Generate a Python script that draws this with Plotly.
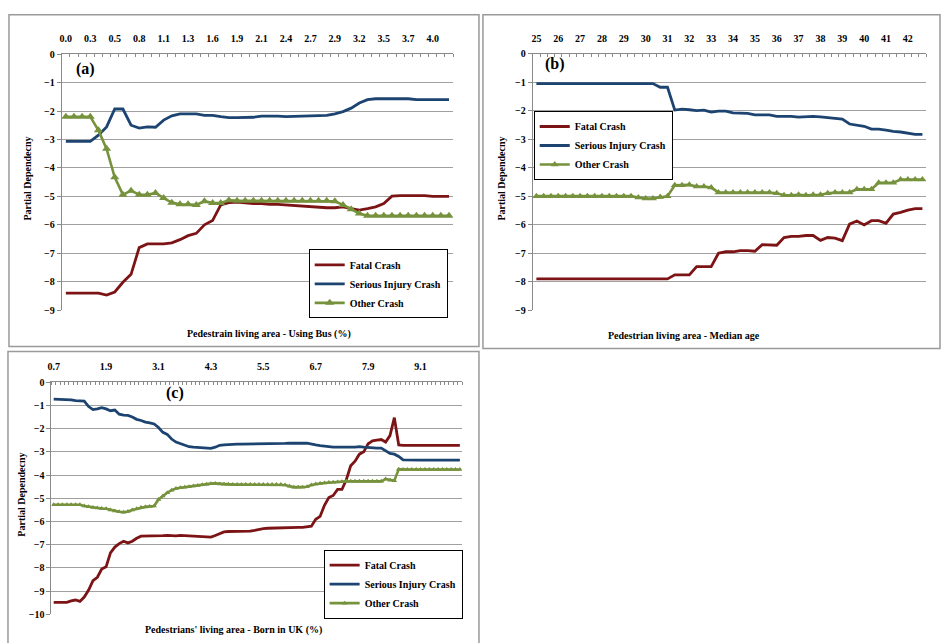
import plotly.graph_objects as go

# ---------------- data ----------------
# (a) share of residents using the bus, % (category axis, labelled every 3rd step)
bus_tick_labels = ["0.0", "0.3", "0.5", "0.8", "1.1", "1.3", "1.6", "1.9", "2.1",
                   "2.4", "2.7", "2.9", "3.2", "3.5", "3.7", "4.0"]
bus_fatal = [-8.40, -8.40, -8.40, -8.40, -8.40, -8.47, -8.36, -8.02, -7.74, -6.80,
             -6.67, -6.67, -6.67, -6.63, -6.52, -6.38, -6.30, -6.00, -5.85, -5.30,
             -5.22, -5.20, -5.23, -5.25, -5.25, -5.28, -5.28, -5.30, -5.34, -5.36,
             -5.38, -5.38, -5.40, -5.40, -5.37, -5.43, -5.48, -5.43, -5.37, -5.25,
             -4.99, -4.97, -4.97, -4.97, -4.97, -5.00, -5.00, -5.00]
bus_serious = [-3.07, -3.07, -3.07, -3.07, -2.85, -2.56, -1.93, -1.93, -2.50, -2.60,
               -2.56, -2.57, -2.32, -2.17, -2.10, -2.10, -2.10, -2.15, -2.15, -2.20,
               -2.23, -2.23, -2.22, -2.22, -2.18, -2.17, -2.18, -2.20, -2.20, -2.18,
               -2.17, -2.15, -2.15, -2.10, -2.02, -1.90, -1.72, -1.60, -1.57, -1.57,
               -1.57, -1.57, -1.57, -1.60, -1.60, -1.60, -1.60, -1.60]
bus_other = [-2.20, -2.20, -2.20, -2.20, -2.68, -3.33, -4.33, -4.94, -4.80, -4.94,
             -4.94, -4.88, -5.06, -5.22, -5.28, -5.28, -5.30, -5.17, -5.23, -5.23,
             -5.14, -5.15, -5.15, -5.15, -5.15, -5.15, -5.15, -5.15, -5.15, -5.15,
             -5.15, -5.15, -5.15, -5.17, -5.30, -5.45, -5.60, -5.68, -5.68, -5.68,
             -5.68, -5.68, -5.68, -5.68, -5.68, -5.68, -5.68, -5.68]

# (b) median age of residents (three steps per year)
age_tick_labels = ["25", "26", "27", "28", "29", "30", "31", "32", "33",
                   "34", "35", "36", "37", "38", "39", "40", "41", "42"]
age_fatal = [-7.90, -7.90, -7.90, -7.90, -7.90, -7.90, -7.90, -7.90, -7.90, -7.90,
             -7.90, -7.90, -7.90, -7.90, -7.90, -7.90, -7.90, -7.90, -7.90, -7.76,
             -7.76, -7.76, -7.47, -7.47, -7.47, -7.00, -6.95, -6.95, -6.91, -6.91,
             -6.93, -6.70, -6.70, -6.72, -6.45, -6.41, -6.41, -6.38, -6.38, -6.55,
             -6.45, -6.47, -6.56, -5.98, -5.87, -6.01, -5.86, -5.86, -5.95, -5.63,
             -5.57, -5.49, -5.44, -5.44]
age_serious = [-1.05, -1.05, -1.05, -1.05, -1.05, -1.05, -1.05, -1.05, -1.05, -1.05,
               -1.05, -1.05, -1.05, -1.05, -1.05, -1.05, -1.05, -1.18, -1.18, -1.98,
               -1.95, -1.97, -2.00, -1.98, -2.05, -2.02, -2.02, -2.08, -2.10, -2.10,
               -2.15, -2.15, -2.15, -2.20, -2.20, -2.20, -2.23, -2.22, -2.20, -2.22,
               -2.25, -2.28, -2.30, -2.47, -2.50, -2.55, -2.65, -2.65, -2.68, -2.73,
               -2.75, -2.80, -2.83, -2.83]
age_other = [-5.00, -5.00, -5.00, -5.00, -5.00, -5.00, -5.00, -5.00, -5.00, -5.00,
             -5.00, -5.00, -5.00, -5.00, -5.05, -5.08, -5.08, -5.03, -5.00, -4.62,
             -4.62, -4.60, -4.66, -4.66, -4.70, -4.87, -4.87, -4.87, -4.87, -4.87,
             -4.87, -4.87, -4.87, -4.90, -4.97, -4.97, -4.95, -4.97, -4.95, -4.95,
             -4.90, -4.87, -4.87, -4.87, -4.76, -4.76, -4.76, -4.53, -4.53, -4.53,
             -4.42, -4.42, -4.42, -4.42]

# (c) share of residents born in the UK, % (labelled every 12th step)
uk_tick_labels = ["0.7", "1.9", "3.1", "4.3", "5.5", "6.7", "7.9", "9.1"]
uk_fatal = [-9.48, -9.48, -9.48, -9.48, -9.42, -9.38, -9.44, -9.25, -8.95, -8.55,
            -8.40, -8.05, -7.95, -7.35, -7.10, -6.95, -6.85, -6.92, -6.85, -6.72,
            -6.63, -6.63, -6.64, -6.63, -6.62, -6.61, -6.60, -6.62, -6.62, -6.60,
            -6.61, -6.63, -6.64, -6.65, -6.66, -6.67, -6.67, -6.60, -6.52, -6.45,
            -6.43, -6.43, -6.42, -6.42, -6.41, -6.41, -6.38, -6.33, -6.31, -6.29,
            -6.28, -6.27, -6.26, -6.26, -6.25, -6.25, -6.25, -6.25, -6.24, -6.20,
            -5.90, -5.78, -5.30, -4.97, -4.88, -4.62, -4.62, -4.20, -3.60, -3.40,
            -3.10, -3.00, -2.65, -2.53, -2.50, -2.47, -2.58, -2.30, -1.53, -2.70,
            -2.72, -2.72, -2.72, -2.72, -2.72, -2.72, -2.72, -2.72, -2.72, -2.72,
            -2.72, -2.72, -2.72, -2.72]
uk_serious = [-0.73, -0.73, -0.73, -0.74, -0.76, -0.80, -0.81, -0.82, -1.05, -1.18,
              -1.15, -1.10, -1.15, -1.23, -1.20, -1.38, -1.42, -1.43, -1.50, -1.60,
              -1.65, -1.72, -1.75, -1.80, -1.95, -2.16, -2.25, -2.45, -2.58, -2.65,
              -2.72, -2.78, -2.80, -2.82, -2.83, -2.84, -2.85, -2.80, -2.72, -2.70,
              -2.68, -2.67, -2.67, -2.67, -2.67, -2.66, -2.66, -2.66, -2.66, -2.65,
              -2.66, -2.66, -2.65, -2.64, -2.63, -2.62, -2.62, -2.63, -2.63, -2.65,
              -2.70, -2.73, -2.76, -2.78, -2.80, -2.80, -2.79, -2.78, -2.80, -2.80,
              -2.78, -2.80, -2.82, -2.82, -2.84, -2.84, -2.95, -3.07, -3.10, -3.20,
              -3.35, -3.36, -3.36, -3.36, -3.36, -3.36, -3.36, -3.36, -3.36, -3.36,
              -3.36, -3.36, -3.36, -3.36]
uk_other = [-5.28, -5.28, -5.28, -5.28, -5.28, -5.28, -5.28, -5.33, -5.36, -5.40,
            -5.42, -5.44, -5.45, -5.50, -5.55, -5.58, -5.60, -5.57, -5.50, -5.45,
            -5.40, -5.37, -5.35, -5.33, -5.05, -4.90, -4.76, -4.65, -4.58, -4.55,
            -4.52, -4.50, -4.47, -4.45, -4.42, -4.40, -4.37, -4.36, -4.38, -4.40,
            -4.40, -4.41, -4.41, -4.41, -4.41, -4.41, -4.41, -4.41, -4.41, -4.41,
            -4.41, -4.41, -4.41, -4.43, -4.48, -4.52, -4.52, -4.52, -4.50, -4.43,
            -4.38, -4.36, -4.34, -4.32, -4.31, -4.30, -4.29, -4.27, -4.27, -4.27,
            -4.27, -4.27, -4.27, -4.27, -4.27, -4.27, -4.17, -4.22, -4.24, -3.75,
            -3.76, -3.76, -3.76, -3.76, -3.76, -3.76, -3.76, -3.76, -3.76, -3.76,
            -3.76, -3.76, -3.76, -3.76]

series_names = ["Fatal Crash", "Serious Injury Crash", "Other Crash"]

# ---------------- styling ----------------
W, H = 942, 643
SERIF = "Liberation Serif"
RED, BLUE, GREEN = "#7c1416", "#1d4470", "#76923c"
GRID = "#a0a0a0"
AXIS = "#8a8a8a"


def px(x):
    return x / W


def py(y):
    return 1 - y / H


fig = go.Figure()

panels = [
    # axis suffix, legend id, series, tick labels, label step, marker size
    ("", "legend", (bus_fatal, bus_serious, bus_other), bus_tick_labels, 3, 8),
    ("2", "legend2", (age_fatal, age_serious, age_other), age_tick_labels, 3, 7),
    ("3", "legend3", (uk_fatal, uk_serious, uk_other), uk_tick_labels, 12, 5),
]

for sfx, leg, (fatal, serious, other), labels, step, msize in panels:
    xs = list(range(len(fatal)))
    common = dict(xaxis="x" + sfx, yaxis="y" + sfx, legend=leg)
    fig.add_trace(go.Scatter(x=xs, y=fatal, name=series_names[0], mode="lines",
                             line=dict(color=RED, width=2.8), **common))
    fig.add_trace(go.Scatter(x=xs, y=serious, name=series_names[1], mode="lines",
                             line=dict(color=BLUE, width=2.8), **common))
    fig.add_trace(go.Scatter(x=xs, y=other, name=series_names[2], mode="lines+markers",
                             line=dict(color=GREEN, width=2.6),
                             marker=dict(symbol="triangle-up", size=msize, color=GREEN),
                             **common))

    n = len(fatal)
    xaxis = dict(
        range=[-0.5, n - 0.5], side="top", showgrid=False, zeroline=False,
        showline=True, linecolor=AXIS, linewidth=1,
        tickmode="array", tickvals=xs[::step], ticktext=labels,
        ticks="", ticklabelstandoff=7,
        tickfont=dict(family=SERIF, size=10, color="black", weight="bold"),
        minor=dict(tickmode="array", tickvals=[i - 0.5 for i in range(n + 1)],
                   ticks="inside", ticklen=3, tickcolor=AXIS, showgrid=False),
        anchor="y" + sfx, fixedrange=True,
    )
    fig.layout["xaxis" + sfx] = xaxis

# y axes
ymin = {"": -9, "2": -9, "3": -10}
for sfx in ["", "2", "3"]:
    fig.layout["yaxis" + sfx] = dict(
        range=[ymin[sfx], 0], dtick=1, showgrid=True, gridcolor=GRID, gridwidth=1,
        zeroline=False, showline=True, linecolor=AXIS, linewidth=1,
        ticks="outside", ticklen=4, tickcolor=AXIS,
        tickfont=dict(family=SERIF, size=10, color="black", weight="bold"),
        anchor="x" + sfx, fixedrange=True,
    )

fig.layout.xaxis.domain = [px(58), px(451)]
fig.layout.yaxis.domain = [py(310), py(49)]
fig.layout.xaxis2.domain = [px(531), px(926)]
fig.layout.yaxis2.domain = [py(310), py(48.5)]
fig.layout.xaxis3.domain = [px(47.7), px(460)]
fig.layout.yaxis3.domain = [py(620), py(383.3)]

# panel frames
frames = [(5, 9, 477, 347), (481, 9, 940, 349), (4, 352, 477, 660)]
for x0, y0, x1, y1 in frames:
    fig.add_shape(type="rect", xref="paper", yref="paper",
                  x0=px(x0), x1=px(x1), y0=py(y1), y1=py(y0),
                  line=dict(color="#9a9a9a", width=1.5), layer="below")

# titles and panel tags
txt = dict(family=SERIF, color="black", weight="bold")
annos = [
    ("(a)", 82, 64, 0, 16),
    ("(b)", 553, 59, 0, 16),
    ("(c)", 172, 394, 0, 16),
    ("Pedestrain living area - Using Bus (%)", 266, 334, 0, 10),
    ("Pedestrian living area - Median age", 683, 336, 0, 10),
    ("Pedestrians' living area - Born in UK (%)", 230, 636, 0, 10),
    ("Partial Dependecny", 24, 176, -90, 10),
    ("Partial Dependecny", 500, 176, -90, 10),
    ("Partial Dependecny", 18, 498, -90, 10),
]
for text, x, y, ang, size in annos:
    fig.add_annotation(text=text, x=px(x), y=py(y), xref="paper", yref="paper",
                       showarrow=False, textangle=ang, xanchor="center", yanchor="middle",
                       font=dict(size=size, **txt))

legend_style = dict(bgcolor="white", bordercolor="black", borderwidth=1,
                    font=dict(family=SERIF, size=10, color="black", weight="bold"),
                    xanchor="left", yanchor="top", tracegroupgap=0, itemwidth=30)
fig.update_layout(
    width=W, height=H, margin=dict(l=0, r=0, t=0, b=0),
    paper_bgcolor="white", plot_bgcolor="white", showlegend=True,
    legend=dict(x=px(306), y=py(248), **legend_style),
    legend2=dict(x=px(532), y=py(107), **legend_style),
    legend3=dict(x=px(321), y=py(554), **legend_style),
)

fig.write_html("out.html")
